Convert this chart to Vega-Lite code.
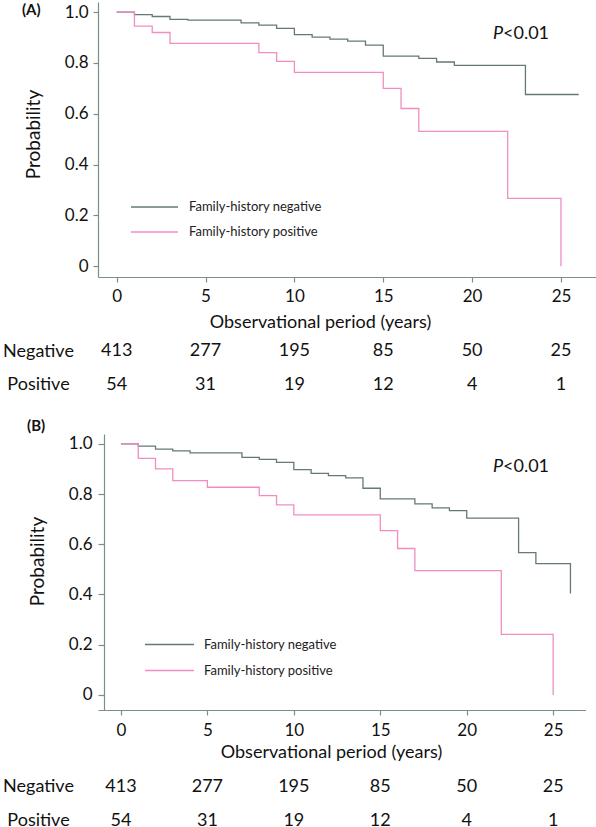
{
  "$schema": "https://vega.github.io/schema/vega-lite/v6.json",
  "padding": {"left": 2, "top": 2, "right": 0, "bottom": 0},
  "autosize": {"type": "pad"},
  "bounds": "flush",
  "spacing": 20,
  "datasets": {
    "kmA": [
      {"group": "Family-history negative", "t": 0, "p": 1},
      {"group": "Family-history negative", "t": 1, "p": 0.99},
      {"group": "Family-history negative", "t": 2, "p": 0.983},
      {"group": "Family-history negative", "t": 3, "p": 0.972},
      {"group": "Family-history negative", "t": 4, "p": 0.969},
      {"group": "Family-history negative", "t": 7, "p": 0.958},
      {"group": "Family-history negative", "t": 8, "p": 0.949},
      {"group": "Family-history negative", "t": 9, "p": 0.936},
      {"group": "Family-history negative", "t": 10, "p": 0.912},
      {"group": "Family-history negative", "t": 11, "p": 0.902},
      {"group": "Family-history negative", "t": 12, "p": 0.894},
      {"group": "Family-history negative", "t": 13, "p": 0.886},
      {"group": "Family-history negative", "t": 14, "p": 0.87},
      {"group": "Family-history negative", "t": 15, "p": 0.827},
      {"group": "Family-history negative", "t": 17, "p": 0.818},
      {"group": "Family-history negative", "t": 18, "p": 0.804},
      {"group": "Family-history negative", "t": 19, "p": 0.791},
      {"group": "Family-history negative", "t": 23, "p": 0.676},
      {"group": "Family-history negative", "t": 26, "p": 0.676},
      {"group": "Family-history positive", "t": 0, "p": 1},
      {"group": "Family-history positive", "t": 1, "p": 0.945},
      {"group": "Family-history positive", "t": 2, "p": 0.92},
      {"group": "Family-history positive", "t": 3, "p": 0.877},
      {"group": "Family-history positive", "t": 8, "p": 0.841},
      {"group": "Family-history positive", "t": 9, "p": 0.806},
      {"group": "Family-history positive", "t": 10, "p": 0.763},
      {"group": "Family-history positive", "t": 15, "p": 0.7},
      {"group": "Family-history positive", "t": 16, "p": 0.621},
      {"group": "Family-history positive", "t": 17, "p": 0.531},
      {"group": "Family-history positive", "t": 22, "p": 0.267},
      {"group": "Family-history positive", "t": 25, "p": 0}
    ],
    "kmB": [
      {"group": "Family-history negative", "t": 0, "p": 1},
      {"group": "Family-history negative", "t": 1, "p": 0.991},
      {"group": "Family-history negative", "t": 2, "p": 0.979},
      {"group": "Family-history negative", "t": 3, "p": 0.972},
      {"group": "Family-history negative", "t": 4, "p": 0.964},
      {"group": "Family-history negative", "t": 7, "p": 0.946},
      {"group": "Family-history negative", "t": 8, "p": 0.938},
      {"group": "Family-history negative", "t": 9, "p": 0.926},
      {"group": "Family-history negative", "t": 10, "p": 0.897},
      {"group": "Family-history negative", "t": 11, "p": 0.882},
      {"group": "Family-history negative", "t": 12, "p": 0.873},
      {"group": "Family-history negative", "t": 13, "p": 0.864},
      {"group": "Family-history negative", "t": 14, "p": 0.823},
      {"group": "Family-history negative", "t": 15, "p": 0.781},
      {"group": "Family-history negative", "t": 17, "p": 0.761},
      {"group": "Family-history negative", "t": 18, "p": 0.745},
      {"group": "Family-history negative", "t": 19, "p": 0.734},
      {"group": "Family-history negative", "t": 20, "p": 0.704},
      {"group": "Family-history negative", "t": 23, "p": 0.567},
      {"group": "Family-history negative", "t": 24, "p": 0.523},
      {"group": "Family-history negative", "t": 26, "p": 0.404},
      {"group": "Family-history positive", "t": 0, "p": 1},
      {"group": "Family-history positive", "t": 1, "p": 0.942},
      {"group": "Family-history positive", "t": 2, "p": 0.9},
      {"group": "Family-history positive", "t": 3, "p": 0.853},
      {"group": "Family-history positive", "t": 5, "p": 0.827},
      {"group": "Family-history positive", "t": 8, "p": 0.794},
      {"group": "Family-history positive", "t": 9, "p": 0.757},
      {"group": "Family-history positive", "t": 10, "p": 0.717},
      {"group": "Family-history positive", "t": 15, "p": 0.654},
      {"group": "Family-history positive", "t": 16, "p": 0.583},
      {"group": "Family-history positive", "t": 17, "p": 0.495},
      {"group": "Family-history positive", "t": 22, "p": 0.241},
      {"group": "Family-history positive", "t": 25, "p": 0}
    ],
    "risk": [
      {"row": "Negative", "t": 0, "n": 413},
      {"row": "Negative", "t": 5, "n": 277},
      {"row": "Negative", "t": 10, "n": 195},
      {"row": "Negative", "t": 15, "n": 85},
      {"row": "Negative", "t": 20, "n": 50},
      {"row": "Negative", "t": 25, "n": 25},
      {"row": "Positive", "t": 0, "n": 54},
      {"row": "Positive", "t": 5, "n": 31},
      {"row": "Positive", "t": 10, "n": 19},
      {"row": "Positive", "t": 15, "n": 12},
      {"row": "Positive", "t": 20, "n": 4},
      {"row": "Positive", "t": 25, "n": 1}
    ]
  },
  "vconcat": [
    {
      "width": 498,
      "height": 275,
      "layer": [
        {
          "data": {"name": "kmA"},
          "mark": {"type": "line", "interpolate": "step-after", "strokeWidth": 1.3},
          "encoding": {
            "x": {"field": "t", "type": "quantitative", "scale": {"domain": [-1.05, 26.97], "nice": false, "zero": false},
                  "axis": {"values": [0, 5, 10, 15, 20, 25], "title": "Observational period (years)", "tickSize": 5, "labelFontSize": 17, "labelBaseline": "alphabetic", "labelPadding": 19.5, "titleFontSize": 18, "titleBaseline": "alphabetic", "titleX": 222, "titleY": 50}},
            "y": {"field": "p", "type": "quantitative", "scale": {"domain": [-0.042, 1.04], "nice": false, "zero": false},
                  "axis": {"values": [0, 0.2, 0.4, 0.6, 0.8, 1.0], "labelExpr": "datum.value == 0 ? '0' : format(datum.value, '.1f')", "title": "Probability", "tickSize": 5, "labelPadding": 5, "labelFontSize": 17, "titleFontSize": 19, "titleX": -55, "titleY": 132}},
            "color": {"field": "group", "type": "nominal", "scale": {"domain": ["Family-history negative", "Family-history positive"], "range": ["#667a75", "#f28dc4"]},
                      "legend": {"orient": "none", "legendX": 32, "legendY": 199, "title": null, "symbolType": "stroke", "symbolSize": 2209, "symbolStrokeWidth": 1.3, "clipHeight": 12, "rowPadding": 12, "labelOffset": 10, "labelFontSize": 13, "labelColor": "#222", "padding": 0}}
          }
        },
        {
          "data": {"values": [{"txt": "(A)"}]},
          "mark": {"type": "text", "fontWeight": "bold", "align": "left", "baseline": "alphabetic", "fontSize": 15, "color": "#111"},
          "encoding": {"x": {"datum": -5.33, "type": "quantitative"}, "y": {"datum": 0.989, "type": "quantitative"}, "text": {"field": "txt"}}
        },
        {
          "data": {"values": [{"txt": "P"}]},
          "mark": {"type": "text", "fontStyle": "italic", "align": "right", "baseline": "alphabetic", "fontSize": 18, "color": "#111"},
          "encoding": {"x": {"datum": 21.74, "type": "quantitative"}, "y": {"datum": 0.8925, "type": "quantitative"}, "text": {"field": "txt"}}
        },
        {
          "data": {"values": [{"txt": "<0.01"}]},
          "mark": {"type": "text", "align": "left", "baseline": "alphabetic", "fontSize": 18, "color": "#111"},
          "encoding": {"x": {"datum": 21.74, "type": "quantitative"}, "y": {"datum": 0.8925, "type": "quantitative"}, "text": {"field": "txt"}}
        }
      ]
    },
    {
      "width": 498,
      "height": 116.3,
      "data": {"name": "risk"},
      "mark": {"type": "text", "fontSize": 18, "color": "#111"},
      "encoding": {
        "x": {"field": "t", "type": "quantitative", "scale": {"domain": [-1.05, 26.97], "nice": false, "zero": false}, "axis": null},
        "y": {"field": "row", "type": "nominal", "scale": {"type": "point", "padding": 0, "range": [54, 87.5]},
              "axis": {"title": null, "domain": false, "ticks": false, "tickSize": 0, "labelAlign": "center", "labelPadding": 60, "labelFontSize": 18, "labelBaseline": "middle"}},
        "text": {"field": "n", "type": "quantitative"}
      }
    },
    {
      "width": 487.5,
      "height": 276,
      "layer": [
        {
          "data": {"name": "kmB"},
          "mark": {"type": "line", "interpolate": "step-after", "strokeWidth": 1.3},
          "encoding": {
            "x": {"field": "t", "type": "quantitative", "scale": {"domain": [-1.327, 26.87], "nice": false, "zero": false},
                  "axis": {"values": [0, 5, 10, 15, 20, 25], "title": "Observational period (years)", "tickSize": 5, "labelFontSize": 17, "labelBaseline": "alphabetic", "labelPadding": 20.5, "titleFontSize": 18, "titleBaseline": "alphabetic", "titleX": 233, "titleY": 47.5}},
            "y": {"field": "p", "type": "quantitative", "scale": {"domain": [-0.06, 1.039], "nice": false, "zero": false},
                  "axis": {"offset": -6, "values": [0, 0.2, 0.4, 0.6, 0.8, 1.0], "labelExpr": "datum.value == 0 ? '0' : format(datum.value, '.1f')", "title": "Probability", "tickSize": 6, "labelPadding": 6, "labelFontSize": 17, "titleFontSize": 19, "titleX": -57, "titleY": 127}},
            "color": {"field": "group", "type": "nominal", "scale": {"domain": ["Family-history negative", "Family-history positive"], "range": ["#667a75", "#f28dc4"]},
                      "legend": {"orient": "none", "legendX": 46, "legendY": 204.5, "title": null, "symbolType": "stroke", "symbolSize": 2401, "symbolStrokeWidth": 1.3, "clipHeight": 12, "rowPadding": 13, "labelOffset": 9, "labelFontSize": 13, "labelColor": "#222", "padding": 0}}
          }
        },
        {
          "data": {"values": [{"txt": "(B)"}]},
          "mark": {"type": "text", "fontWeight": "bold", "align": "left", "baseline": "alphabetic", "fontSize": 15, "color": "#111"},
          "encoding": {"x": {"datum": -5.43, "type": "quantitative"}, "y": {"datum": 1.05, "type": "quantitative"}, "text": {"field": "txt"}}
        },
        {
          "data": {"values": [{"txt": "P"}]},
          "mark": {"type": "text", "fontStyle": "italic", "align": "right", "baseline": "alphabetic", "fontSize": 18, "color": "#111"},
          "encoding": {"x": {"datum": 22.1, "type": "quantitative"}, "y": {"datum": 0.886, "type": "quantitative"}, "text": {"field": "txt"}}
        },
        {
          "data": {"values": [{"txt": "<0.01"}]},
          "mark": {"type": "text", "align": "left", "baseline": "alphabetic", "fontSize": 18, "color": "#111"},
          "encoding": {"x": {"datum": 22.1, "type": "quantitative"}, "y": {"datum": 0.886, "type": "quantitative"}, "text": {"field": "txt"}}
        }
      ]
    },
    {
      "width": 487.5,
      "height": 100,
      "data": {"name": "risk"},
      "mark": {"type": "text", "fontSize": 18, "color": "#111"},
      "encoding": {
        "x": {"field": "t", "type": "quantitative", "scale": {"domain": [-1.327, 26.87], "nice": false, "zero": false}, "axis": null},
        "y": {"field": "row", "type": "nominal", "scale": {"type": "point", "padding": 0, "range": [56.7, 90.7]},
              "axis": {"title": null, "domain": false, "ticks": false, "tickSize": 0, "labelAlign": "center", "labelPadding": 60, "labelFontSize": 18, "labelBaseline": "middle"}},
        "text": {"field": "n", "type": "quantitative"}
      }
    }
  ],
  "resolve": {"scale": {"x": "independent", "y": "independent", "color": "independent"}, "legend": {"color": "independent"}},
  "config": {
    "font": "Lato",
    "view": {"stroke": null},
    "axis": {"domainColor": "#7a8f8a", "tickColor": "#7a8f8a", "domainWidth": 1.2, "tickWidth": 1.2, "grid": false, "labelColor": "#111", "titleColor": "#111", "labelFont": "Lato", "titleFont": "Lato", "titleFontWeight": "normal"},
    "legend": {"labelFont": "Lato"}
  }
}
